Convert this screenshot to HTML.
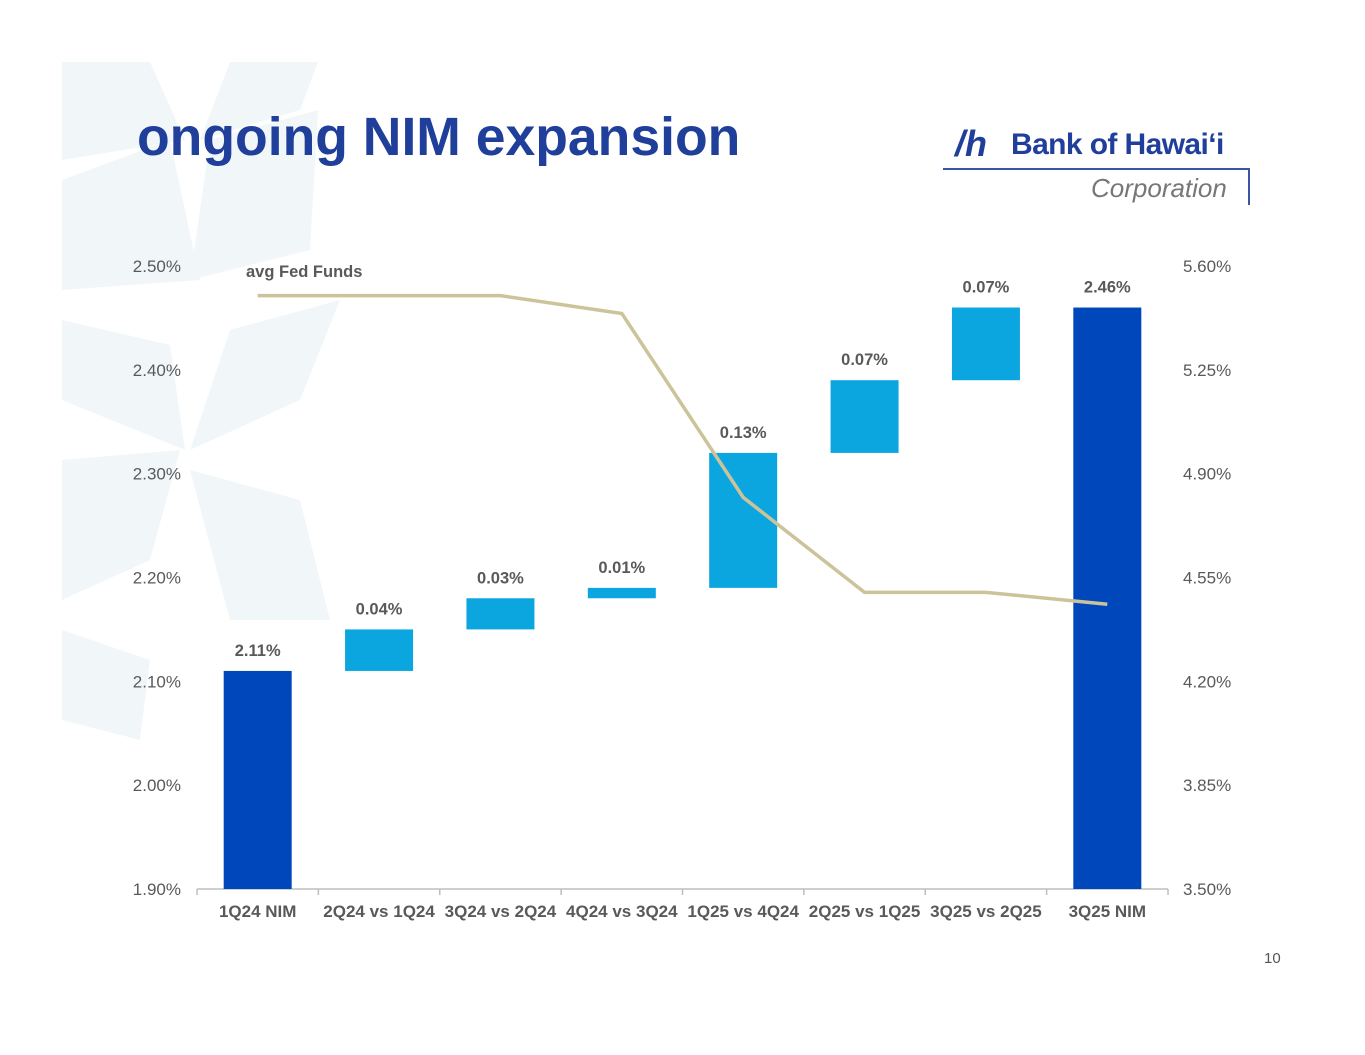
<!DOCTYPE html>
<html><head><meta charset="utf-8"><style>
html,body{margin:0;padding:0;background:#fff;}
body{width:1365px;height:1055px;position:relative;overflow:hidden;font-family:"Liberation Sans",Arial,sans-serif;}
svg{position:absolute;left:0;top:0;}
</style></head><body>
<svg id="bg" width="1365" height="1055">
  <g fill="#f1f7f9">
    <polygon points="62,62 150,62 185,140 62,160"/>
    <polygon points="230,62 318,62 300,110 200,140"/>
    <polygon points="62,180 170,140 200,280 62,290"/>
    <polygon points="190,280 210,140 318,110 310,250"/>
    <polygon points="62,320 170,345 185,450 62,400"/>
    <polygon points="190,450 230,330 340,300 300,400"/>
    <polygon points="62,460 180,450 150,560 62,600"/>
    <polygon points="190,470 300,500 330,620 230,620"/>
    <polygon points="62,630 150,660 140,740 62,720"/>
  </g>
</svg>
<svg id="chart" width="1365" height="1055"></svg>
<div style="position:absolute;left:137px;top:107px;font-size:53.5px;font-weight:bold;color:#1f3f9a;">ongoing NIM expansion</div>
<div style="position:absolute;left:943px;top:118px;width:308px;height:90px;">
  <div style="position:absolute;left:12px;top:5px;font-size:36px;font-weight:bold;font-style:italic;color:#1f3f9a;">/h</div>
  <div style="position:absolute;left:68px;top:10px;font-size:30px;font-weight:bold;color:#1f3f9a;letter-spacing:-0.6px;">Bank of Hawaiʻi</div>
  <div style="position:absolute;left:0;top:50px;width:306px;height:1.5px;background:#3a55a8;"></div>
  <div style="position:absolute;left:305px;top:50px;width:1.5px;height:37px;background:#3a55a8;"></div>
  <div style="position:absolute;left:148px;top:55px;font-size:26px;font-style:italic;color:#777;">Corporation</div>
</div>
<div style="position:absolute;left:1264px;top:950px;font-size:15px;color:#555;">10</div>
<script>
const categories=["1Q24 NIM","2Q24 vs 1Q24","3Q24 vs 2Q24","4Q24 vs 3Q24","1Q25 vs 4Q24","2Q25 vs 1Q25","3Q25 vs 2Q25","3Q25 NIM"];
const nimChanges=[2.11,0.04,0.03,0.01,0.13,0.07,0.07,2.46];
const barLabels=["2.11%","0.04%","0.03%","0.01%","0.13%","0.07%","0.07%","2.46%"];
const fedFunds=[5.50,5.50,5.50,5.44,4.82,4.50,4.50,4.46];
const leftTicks=[1.90,2.00,2.10,2.20,2.30,2.40,2.50];
const rightTicks=[3.50,3.85,4.20,4.55,4.90,5.25,5.60];
const NS="http://www.w3.org/2000/svg";
const svg=document.getElementById('chart');
const X0=197,X1=1168,YB=889,YT=266;
const step=(X1-X0)/categories.length;
const xc=i=>X0+step*(i+0.5);
const yL=v=>YB-(v-1.90)/(2.50-1.90)*(YB-YT);
const yR=v=>YB-(v-3.50)/(5.60-3.50)*(YB-YT);
function mk(t,a,txt){const e=document.createElementNS(NS,t);for(const k in a)e.setAttribute(k,a[k]);if(txt!==undefined)e.textContent=txt;svg.appendChild(e);return e;}
leftTicks.forEach(v=>{const e=mk('text',{x:181,y:yL(v)+6,'text-anchor':'end','font-size':17,fill:'#595959'},v.toFixed(2)+'%');

});
rightTicks.forEach(v=>{const e=mk('text',{x:1183,y:yR(v)+6,'font-size':17,fill:'#595959'},v.toFixed(2)+'%');

});
const ax=mk('line',{x1:X0,y1:YB,x2:X1,y2:YB,stroke:'#bfbfbf','stroke-width':1.5});


for(let i=0;i<=categories.length;i++){const t=mk('line',{x1:X0+step*i,y1:YB,x2:X0+step*i,y2:YB+6,stroke:'#bfbfbf','stroke-width':1.5});

}
let run=0;const bw=68;
nimChanges.forEach((v,i)=>{
  let lo,hi,col;
  if(i===0||i===nimChanges.length-1){lo=1.90;hi=v;run=v;col='#0047bb';}
  else{lo=run;hi=run+v;run=hi;col='#0ba6df';}
  const r=mk('rect',{x:xc(i)-bw/2,y:yL(hi),width:bw,height:yL(lo)-yL(hi),fill:col});
  
  
  const l=mk('text',{x:xc(i),y:yL(hi)-15,'text-anchor':'middle','font-size':16.5,'font-weight':'bold',fill:'#595959'},barLabels[i]);
  
  
  const c=mk('text',{x:xc(i),y:917,'text-anchor':'middle','font-size':17,'font-weight':'bold',fill:'#595959'},categories[i]);
  
  
});
const pl=mk('polyline',{points:fedFunds.map((v,i)=>xc(i)+','+yR(v)).join(' '),fill:'none',stroke:'#cdc39a','stroke-width':3.5});


const lg=mk('text',{x:246,y:277,'font-size':16.5,'font-weight':'bold',fill:'#595959'},'avg Fed Funds');


</script>
</body></html>
